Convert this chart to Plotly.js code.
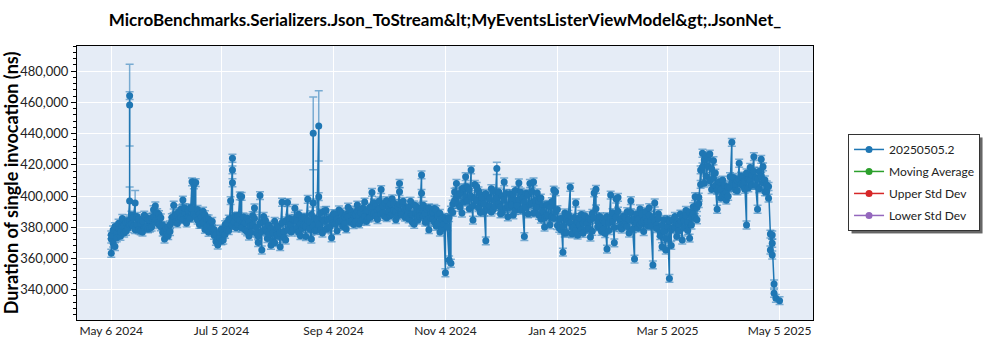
<!DOCTYPE html>
<html><head><meta charset="utf-8">
<script src="https://cdn.plot.ly/plotly-3.0.1.min.js"></script>
<style>html,body{margin:0;padding:0;background:#fff}#chart{width:1000px;height:350px}</style>
</head><body><div id="chart"></div>
<script>
const chartTitle = 'MicroBenchmarks.Serializers.Json_ToStream&amp;lt;MyEventsListerViewModel&amp;gt;.JsonNet_';
const yTitle = 'Duration of single invocation (ns)';
const seriesNames = ['20250505.2', 'Moving Average', 'Upper Std Dev', 'Lower Std Dev'];
const seriesColors = ['#1f77b4', '#2ca02c', '#d62728', '#9467bd'];
const xTickVals = ['2024-05-06', '2024-07-05', '2024-09-04', '2024-11-04', '2025-01-04', '2025-03-05', '2025-05-05'];
const xTickText = ['May 6 2024', 'Jul 5 2024', 'Sep 4 2024', 'Nov 4 2024', 'Jan 4 2025', 'Mar 5 2025', 'May 5 2025'];

// first run(s) of each day, including outlier runs
const dates = [
'2024-05-06','2024-05-06','2024-05-07','2024-05-08','2024-05-09','2024-05-10','2024-05-11','2024-05-12',
'2024-05-13','2024-05-14','2024-05-15','2024-05-16','2024-05-16','2024-05-16','2024-05-16','2024-05-17','2024-05-18','2024-05-19',
'2024-05-20','2024-05-21','2024-05-22','2024-05-23','2024-05-24','2024-05-25','2024-05-26',
'2024-05-27','2024-05-28','2024-05-29','2024-05-30','2024-05-31','2024-06-01','2024-06-02',
'2024-06-03','2024-06-04','2024-06-05','2024-06-06','2024-06-07','2024-06-08','2024-06-09',
'2024-06-10','2024-06-11','2024-06-12','2024-06-13','2024-06-14','2024-06-15','2024-06-16',
'2024-06-17','2024-06-18','2024-06-19','2024-06-20','2024-06-21','2024-06-22','2024-06-23',
'2024-06-24','2024-06-25','2024-06-26','2024-06-27','2024-06-28','2024-06-29','2024-06-30',
'2024-07-01','2024-07-02','2024-07-03','2024-07-04','2024-07-05','2024-07-06','2024-07-07',
'2024-07-08','2024-07-09','2024-07-10','2024-07-11','2024-07-11','2024-07-11','2024-07-11','2024-07-12','2024-07-13','2024-07-14',
'2024-07-15','2024-07-16','2024-07-17','2024-07-18','2024-07-19','2024-07-20','2024-07-21',
'2024-07-22','2024-07-23','2024-07-24','2024-07-25','2024-07-26','2024-07-27','2024-07-28',
'2024-07-29','2024-07-30','2024-07-31','2024-08-01','2024-08-02','2024-08-03','2024-08-04',
'2024-08-05','2024-08-06','2024-08-07','2024-08-08','2024-08-09','2024-08-10','2024-08-11',
'2024-08-12','2024-08-13','2024-08-14','2024-08-15','2024-08-16','2024-08-17','2024-08-18',
'2024-08-19','2024-08-20','2024-08-21','2024-08-22','2024-08-23','2024-08-24','2024-08-24','2024-08-25',
'2024-08-26','2024-08-27','2024-08-27','2024-08-28','2024-08-29','2024-08-30','2024-08-31','2024-09-01',
'2024-09-02','2024-09-03','2024-09-04','2024-09-05','2024-09-06','2024-09-07','2024-09-08',
'2024-09-09','2024-09-10','2024-09-11','2024-09-12','2024-09-13','2024-09-14','2024-09-15',
'2024-09-16','2024-09-17','2024-09-18','2024-09-19','2024-09-20','2024-09-21','2024-09-22',
'2024-09-23','2024-09-24','2024-09-25','2024-09-26','2024-09-27','2024-09-28','2024-09-29',
'2024-09-30','2024-10-01','2024-10-02','2024-10-03','2024-10-04','2024-10-05','2024-10-06',
'2024-10-07','2024-10-08','2024-10-09','2024-10-10','2024-10-10','2024-10-11','2024-10-12','2024-10-13',
'2024-10-14','2024-10-15','2024-10-16','2024-10-17','2024-10-18','2024-10-19','2024-10-20',
'2024-10-21','2024-10-22','2024-10-22','2024-10-23','2024-10-24','2024-10-25','2024-10-26','2024-10-27',
'2024-10-28','2024-10-29','2024-10-30','2024-10-31','2024-11-01','2024-11-02','2024-11-03',
'2024-11-04','2024-11-05','2024-11-06','2024-11-07','2024-11-08','2024-11-09','2024-11-10',
'2024-11-11','2024-11-12','2024-11-13','2024-11-14','2024-11-15','2024-11-16','2024-11-17',
'2024-11-18','2024-11-19','2024-11-20','2024-11-21','2024-11-22','2024-11-23','2024-11-24',
'2024-11-25','2024-11-26','2024-11-27','2024-11-28','2024-11-29','2024-11-30','2024-12-01',
'2024-12-02','2024-12-03','2024-12-04','2024-12-05','2024-12-06','2024-12-07','2024-12-08',
'2024-12-09','2024-12-10','2024-12-11','2024-12-12','2024-12-13','2024-12-14','2024-12-15',
'2024-12-16','2024-12-17','2024-12-18','2024-12-19','2024-12-20','2024-12-21','2024-12-22',
'2024-12-23','2024-12-24','2024-12-25','2024-12-26','2024-12-27','2024-12-28','2024-12-29',
'2024-12-30','2024-12-31','2025-01-01','2025-01-02','2025-01-03','2025-01-04','2025-01-05',
'2025-01-06','2025-01-07','2025-01-08','2025-01-09','2025-01-10','2025-01-11','2025-01-12',
'2025-01-13','2025-01-14','2025-01-15','2025-01-16','2025-01-17','2025-01-18','2025-01-19',
'2025-01-20','2025-01-21','2025-01-22','2025-01-23','2025-01-24','2025-01-25','2025-01-26',
'2025-01-27','2025-01-28','2025-01-29','2025-01-30','2025-01-31','2025-02-01','2025-02-02',
'2025-02-03','2025-02-04','2025-02-05','2025-02-06','2025-02-07','2025-02-08','2025-02-09',
'2025-02-10','2025-02-11','2025-02-12','2025-02-13','2025-02-14','2025-02-15','2025-02-16',
'2025-02-17','2025-02-18','2025-02-19','2025-02-20','2025-02-21','2025-02-22','2025-02-23',
'2025-02-24','2025-02-25','2025-02-26','2025-02-27','2025-02-28','2025-03-01','2025-03-02',
'2025-03-03','2025-03-04','2025-03-05','2025-03-06','2025-03-07','2025-03-08','2025-03-09',
'2025-03-10','2025-03-11','2025-03-12','2025-03-13','2025-03-14','2025-03-15','2025-03-16',
'2025-03-17','2025-03-18','2025-03-19','2025-03-20','2025-03-21','2025-03-22','2025-03-23',
'2025-03-24','2025-03-25','2025-03-26','2025-03-27','2025-03-28','2025-03-29','2025-03-30',
'2025-03-31','2025-04-01','2025-04-02','2025-04-03','2025-04-04','2025-04-05','2025-04-06',
'2025-04-07','2025-04-08','2025-04-09','2025-04-10','2025-04-11','2025-04-12','2025-04-13',
'2025-04-14','2025-04-15','2025-04-16','2025-04-17','2025-04-18','2025-04-19','2025-04-20',
'2025-04-21','2025-04-22','2025-04-23','2025-04-24','2025-04-25','2025-04-26','2025-04-27',
'2025-04-28','2025-04-29','2025-04-30','2025-04-30','2025-05-01','2025-05-01','2025-05-01','2025-05-02','2025-05-02','2025-05-03','2025-05-05'
];

const durations = [
372400,363300,378200,367600,376100,379800,374200,385600,
381200,377400,383900,396800,458300,464300,384100,387800,380600,395500,
386900,378300,382500,376900,387700,380200,384800,
379400,385900,391200,393600,382700,388100,380300,
376800,372400,379300,374600,381500,386200,394100,
383400,388900,385200,391700,397400,389600,386300,
386200,392400,409100,407200,408600,384500,388700,
381900,390300,378600,385400,376700,383100,379200,
374800,370900,368600,373500,371200,376400,381700,
378300,385100,397000,424200,416700,408500,381200,386800,379600,387300,
400100,399700,383800,378200,385900,374300,380700,
387400,392300,376100,370200,400300,365400,383600,
378900,372700,381300,368400,376500,370100,379800,
374200,367500,396000,377300,371800,395800,382400,
376900,384700,392100,379500,388300,374600,386100,
381200,374000,397900,383500,372400,395500,440200,385700,
378400,444900,399600,389200,376300,383800,390700,379100,
385600,373200,382900,388400,377800,391100,384300,
380500,386700,378900,392800,383400,389600,381700,
387900,394200,382100,389300,385000,396100,383700,
390400,386200,402300,388700,393500,384900,391800,
404100,389400,395700,386100,392600,387300,398200,
390500,384800,393100,408000,402800,389700,394600,386400,
391900,385300,396700,388100,381900,393400,387600,
390200,413500,401700,386900,383200,391500,378400,388300,
384700,392000,380600,387400,376900,385200,381800,
350800,384300,359000,356900,389500,397200,408000,
394600,401800,389100,405300,412400,396800,403900,
416700,384600,398300,406100,392500,401200,395800,
389700,371300,399500,393600,404700,391200,397400,
417700,395100,388600,399800,409000,392300,386700,
401500,394200,387900,403600,396500,408400,390800,
398700,374000,392400,400900,408000,395300,409000,
389600,402000,396400,385200,393800,380100,387700,
394600,381500,386700,403800,402700,391300,384900,
378200,364000,389100,376400,383700,405600,379800,
386300,395500,374900,381400,388200,376100,383900,
378700,385600,373700,388900,402000,404300,380200,
386800,377300,384100,375900,366000,382700,400600,
389300,370000,398000,399100,384500,378800,387200,
381600,389900,376300,397000,384200,359600,388500,
379400,391700,383100,377200,386600,380900,392500,
384000,355800,395500,381300,388700,376500,367500,
384800,365400,385000,347200,368300,379600,386900,
374100,381800,388400,371800,384300,390700,377900,
373000,386200,393100,399600,384700,399200,416700,
427400,408200,425800,419300,426900,404100,422600,
414700,391500,406300,398700,410200,401400,397300,
405600,412400,434400,406800,403800,409700,421000,
407500,412200,404300,381400,410600,418300,406900,
425200,411500,391500,415800,423500,408400,402700,
407100,398600,375600,365400,375000,362200,369700,343600,337600,334400,332900
];

const errors = [
2500,2500,2500,2500,2500,2500,2500,2500,
2500,2500,2500,9000,26200,2500,2500,2500,2500,8000,
2500,2500,2500,2500,2500,2500,2500,
2500,2500,2500,2500,2500,2500,2500,
2500,2500,2500,2500,2500,2500,2500,
2500,2500,2500,2500,2500,2500,2500,
2500,2500,2500,2500,2500,2500,2500,
2500,2500,2500,2500,2500,2500,2500,
2500,2500,2500,2500,2500,2500,2500,
2500,2500,2500,2500,2500,2500,2500,2500,2500,2500,
2500,2500,2500,2500,2500,2500,2500,
2500,2500,2500,2500,2500,2500,2500,
2500,2500,2500,2500,2500,2500,2500,
2500,2500,2500,2500,2500,2500,2500,
2500,2500,2500,2500,2500,2500,2500,
2500,2500,2500,2500,2500,2500,23300,2500,
2500,22500,2500,2500,2500,2500,2500,2500,
2500,2500,2500,2500,2500,2500,2500,
2500,2500,2500,2500,2500,2500,2500,
2500,2500,2500,2500,2500,2500,2500,
2500,2500,2500,2500,2500,2500,2500,
2500,2500,2500,2500,2500,2500,2500,
2500,2500,2500,2500,2500,2500,2500,2500,
2500,2500,2500,2500,2500,2500,2500,
2500,2500,2500,2500,2500,2500,2500,2500,
2500,2500,2500,2500,2500,2500,2500,
2500,2500,2500,2500,2500,2500,2500,
2500,2500,2500,2500,2500,2500,2500,
2500,2500,2500,2500,2500,2500,2500,
2500,2500,2500,2500,2500,2500,2500,
3900,2500,2500,2500,2500,2500,2500,
2500,2500,2500,2500,2500,2500,2500,
2500,2500,2500,2500,2500,2500,2500,
2500,2500,2500,2500,2500,2500,2500,
2500,2500,2500,2500,2500,2500,2500,
2500,2500,2500,2500,2500,2500,2500,
2500,2500,2500,2500,2500,2500,2500,
2500,2500,2500,2500,2500,2500,2500,
2500,2500,2500,2500,2500,2500,2500,
2500,2500,2500,2500,2500,2500,2500,
2500,2500,2500,2500,2500,2500,2500,
2500,2500,2500,2500,2500,2500,2500,
2500,2500,2500,2500,2500,2500,2500,
2500,2500,2500,2500,2500,2500,2500,
2500,2500,2500,2500,2500,2500,2500,
2500,2500,2500,2500,2500,2500,2500,
2500,2500,2500,2500,2500,2500,2500,
2500,2500,2500,2500,2500,2500,2500,
2500,2500,2500,2500,2500,2500,2500,
2500,2500,2500,2500,2500,2500,2500,
2500,2500,2500,2500,2500,2500,2500,
2500,2500,2500,2500,2500,2500,2500,2500,2500,2500,2500
];

// last run of each distinct day above (one entry per day, in the same order; null = no extra run)
const secondRun = [
375100,369800,380400,373200,382600,377100,380900,
376300,383200,379100,381500,382000,386200,378400,
381700,385300,377600,383900,379800,386400,378900,
384600,380100,386900,384200,389300,381600,386000,
381200,377800,375100,380300,377200,383900,386800,
387700,382300,390100,386400,384800,392300,382600,
390800,385600,391900,388200,386500,391400,381800,
386500,383200,388000,380100,385300,380500,383700,
378600,375300,372200,376900,378800,371800,375400,
382800,377900,384600,381200,383500,386700,381900,
384700,379500,386600,382900,377100,383400,376800,
381200,385700,379800,374400,382500,377300,386900,
384300,376700,375500,379100,371300,383800,374900,
380600,376200,382900,373300,384100,378300,385600,
381900,378200,385300,383900,376800,382100,379100,
386400,380700,384500,378900,388100,380900,377800,
384900,381600,378200,384700,390400,378900,385300,
380100,386300,388700,381900,385200,383400,389700,
385100,382100,388300,386900,390900,384200,387800,
383300,390500,387400,384100,392200,386800,390600,
385800,392900,389100,395600,387000,391300,396800,
388300,393600,386900,397100,389800,394800,388500,
395300,390100,387400,394900,388200,396600,391700,
386800,392600,388400,383200,394300,389000,384500,
387100,392700,394100,388800,384600,392400,386200,
389800,383100,391200,382600,388900,378700,386300,
385700,380200,386100,390900,394800,402500,399300,
400700,392800,404600,396100,399400,405700,391900,
399800,393700,407400,396900,403300,389400,398900,
394800,401600,391400,398200,389700,403100,393300,
398900,402700,393000,389200,397700,401600,394100,
392600,398400,401200,390700,393800,397900,402400,
391900,396100,401700,388500,394600,402900,389100,
397200,393100,387600,398700,390300,385900,394200,
387500,392900,396400,385800,389700,381100,379300,
385600,380800,376300,384900,388200,382600,375700,
380200,377600,383400,386100,378300,382700,387400,
382400,379200,384700,377400,386000,391800,383300,
380600,385900,378700,383200,386800,377900,385100,
383700,379800,386400,390300,380100,385600,381900,
386300,380400,384800,389400,378900,385100,382400,
385200,381500,388300,384200,390100,383700,387900,
380800,386200,383900,379100,385800,374600,381300,
377200,372600,380600,383900,378400,384700,380200,
382900,377500,384100,386600,379700,387300,383100,
389600,381400,388700,386100,392600,395100,407400,
418600,423100,412700,424400,409700,417400,411300,
406800,403600,409100,404200,400300,406700,402500,
399800,405500,408600,411900,407400,403300,410800,
412700,406600,409400,414800,405200,409900,413400,
415900,406800,410900,404600,412700,418700,410300,
402900,406100,null,null,null,null,null
];
const secondRunError = 2500;

// build the series: each day's runs in order, the day's last run appended
const xs = [], ys = [], es = [];
let dayIndex = 0;
for (let i = 0; i < dates.length; i++) {
  xs.push(dates[i]); ys.push(durations[i]); es.push(errors[i]);
  const lastOfDay = (i === dates.length - 1) || dates[i + 1] !== dates[i];
  if (lastOfDay) {
    const v = secondRun[dayIndex];
    if (v !== null && v !== undefined) { xs.push(dates[i]); ys.push(v); es.push(secondRunError); }
    dayIndex++;
  }
}

const FONT = 'Lato, "Open Sans", sans-serif';

const traces = [{
  type: 'scatter', mode: 'lines+markers', name: seriesNames[0],
  x: xs, y: ys,
  line: {color: seriesColors[0], width: 1.5},
  marker: {color: seriesColors[0], size: 7},
  error_y: {type: 'data', array: es, visible: true, color: 'rgba(31,119,180,0.55)', thickness: 1.5, width: 4},
  legendgroup: 'a'
}];
for (let i = 1; i < seriesNames.length; i++) {
  traces.push({
    type: 'scatter', mode: 'lines+markers', name: seriesNames[i],
    x: [null], y: [null],
    line: {color: seriesColors[i], width: 1.5},
    marker: {color: seriesColors[i], size: 7},
    legendgroup: 'g' + i
  });
}

const layout = {
  width: 1000, height: 350,
  margin: {l: 77, r: 187, t: 46, b: 30},
  paper_bgcolor: '#ffffff', plot_bgcolor: '#E5ECF6',
  font: {family: FONT, size: 12, color: '#222'},
  title: {text: '<b>' + chartTitle + '</b>', x: 0.5, xref: 'paper', xanchor: 'center',
          y: 0.943, yref: 'container', yanchor: 'middle', font: {size: 17, color: '#000', family: FONT}},
  xaxis: {
    type: 'date', range: ['2024-04-17 08:00', '2025-05-23 05:00'],
    tickmode: 'array', tickvals: xTickVals, ticktext: xTickText,
    showgrid: true, gridcolor: '#ffffff', gridwidth: 1,
    showline: true, linecolor: '#000', linewidth: 1, mirror: true,
    ticks: '', zeroline: false, tickfont: {size: 12, color: '#222'}
  },
  yaxis: {
    range: [320520, 496150], dtick: 20000, tick0: 0, tickformat: ',d',
    showgrid: true, gridcolor: '#ffffff', gridwidth: 1,
    showline: true, linecolor: '#000', linewidth: 1, mirror: true,
    ticks: 'outside', ticklen: 5, tickcolor: '#000', zeroline: false,
    minor: {dtick: 4000, ticks: 'outside', ticklen: 3, tickcolor: '#000', showgrid: false},
    tickfont: {size: 13, color: '#222'},
    title: {text: '<b>' + yTitle + '</b>', font: {size: 18, color: '#000', family: FONT}}
  },
  showlegend: true,
  legend: {x: 1.0476, y: 0.679, xanchor: 'left', yanchor: 'top',
           bgcolor: '#ffffff', bordercolor: '#333', borderwidth: 1,
           font: {size: 12, color: '#222', family: FONT},
           traceorder: 'grouped', tracegroupgap: 3}
};

Plotly.newPlot('chart', traces, layout, {displayModeBar: false, staticPlot: true}).then(function () {
  const bg = document.querySelector('.legend .bg');
  if (bg) {
    const ns = 'http://www.w3.org/2000/svg';
    const r = document.createElementNS(ns, 'rect');
    r.setAttribute('x', (parseFloat(bg.getAttribute('x')) || 0) + 3);
    r.setAttribute('y', (parseFloat(bg.getAttribute('y')) || 0) + 3);
    r.setAttribute('width', bg.getAttribute('width'));
    r.setAttribute('height', bg.getAttribute('height'));
    r.setAttribute('fill', '#666');
    bg.parentNode.insertBefore(r, bg);
  }
});
</script>
</body></html>
